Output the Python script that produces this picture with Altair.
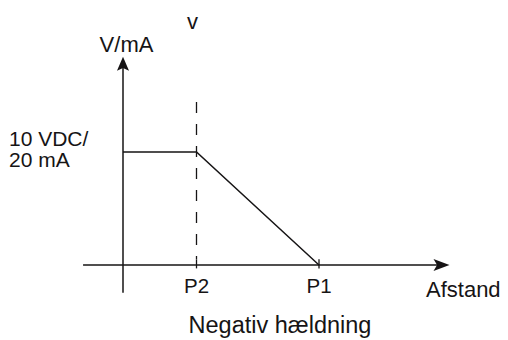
import altair as alt
import pandas as pd

# ---- data ----
point_labels = ["P2", "P1"]
point_pos = [3, 8]
curve_x = [0, 3, 8]
curve_y = [10, 10, 0]
level_label = ["10 VDC/", "20 mA"]

INK = "#161415"
FONT = "Liberation Sans"

W, H = 492, 332
PX_X = 24.5   # px per x unit
PX_Y = 11.3   # px per y unit
X0, Y0 = 115, 257  # chart px of origin
x_scale = alt.Scale(domain=[-X0 / PX_X, (W - X0) / PX_X], nice=False, zero=False)
y_scale = alt.Scale(domain=[-(H - Y0) / PX_Y, Y0 / PX_Y], nice=False, zero=False)

def X(f="x"):
    return alt.X(f"{f}:Q", scale=x_scale, axis=None)

def Y(f="y"):
    return alt.Y(f"{f}:Q", scale=y_scale, axis=None)

# axes lines
axes_df = pd.DataFrame({
    "x": [0, -1.63], "x2": [0, 13.0],
    "y": [-2.45, 0], "y2": [17.8, 0],
})
axes = alt.Chart(axes_df).mark_rule(color=INK, strokeWidth=1.5).encode(
    x=X(), x2="x2:Q", y=Y(), y2="y2:Q")

ticks_df = pd.DataFrame({"x": point_pos, "y": [-0.3] * 2, "y2": [0.5] * 2})
ticks = alt.Chart(ticks_df).mark_rule(color=INK, strokeWidth=1.3).encode(
    x=X(), y=Y(), y2="y2:Q")

dash_df = pd.DataFrame({"x": [point_pos[0]], "y": [14.42], "y2": [0.5]})
dashed = alt.Chart(dash_df).mark_rule(color=INK, strokeWidth=1.3, strokeDash=[11, 11]).encode(
    x=X(), y=Y(), y2="y2:Q")

curve_df = pd.DataFrame({"x": curve_x, "y": curve_y, "o": [0, 1, 2]})
curve = alt.Chart(curve_df).mark_line(color=INK, strokeWidth=1.5).encode(
    x=X(), y=Y(), order="o:Q")

up_arrow = alt.Chart(pd.DataFrame({"x": [0], "y": [17.8]})).mark_point(
    shape="M0,-1L0.86,1L0,0.6L-0.86,1Z", size=196, filled=True, opacity=1,
    color=INK, strokeWidth=0).encode(x=X(), y=Y())

right_arrow = alt.Chart(pd.DataFrame({"x": [13.0], "y": [0]})).mark_point(
    shape="M1,0L-1,0.75L-0.55,0L-1,-0.75Z", size=256, filled=True, opacity=1,
    color=INK, strokeWidth=0).encode(x=X(), y=Y())

# tick labels P2 / P1
tick_labels = alt.Chart(pd.DataFrame({"x": point_pos, "t": point_labels})).mark_text(
    font=FONT, fontSize=20.5, color=INK, align="center", baseline="alphabetic").encode(
    x=X(), y=alt.value(285), text="t:N")

def label(txt, x, y, size=22, align="left"):
    return alt.Chart(pd.DataFrame({"t": [txt]})).mark_text(
        font=FONT, fontSize=size, color=INK, align=align, baseline="alphabetic").encode(
        x=alt.value(x), y=alt.value(y), text="t:N")

chart = alt.layer(
    axes, ticks, dashed, curve, up_arrow, right_arrow, tick_labels,
    label("v", 184.5, 21, align="center"),
    label("V/mA", 118.5, 44, align="center"),
    label(level_label[0], 1, 138, size=21),
    label(level_label[1], 1, 159, size=21),
    label("Afstand", 418, 289),
    label("Negativ hældning", 272, 325, size=23.5, align="center"),
).properties(width=W, height=H, padding=0, autosize="none").configure_view(stroke=None)

chart.save("out.html", embed_options={"renderer": "svg", "actions": False})
